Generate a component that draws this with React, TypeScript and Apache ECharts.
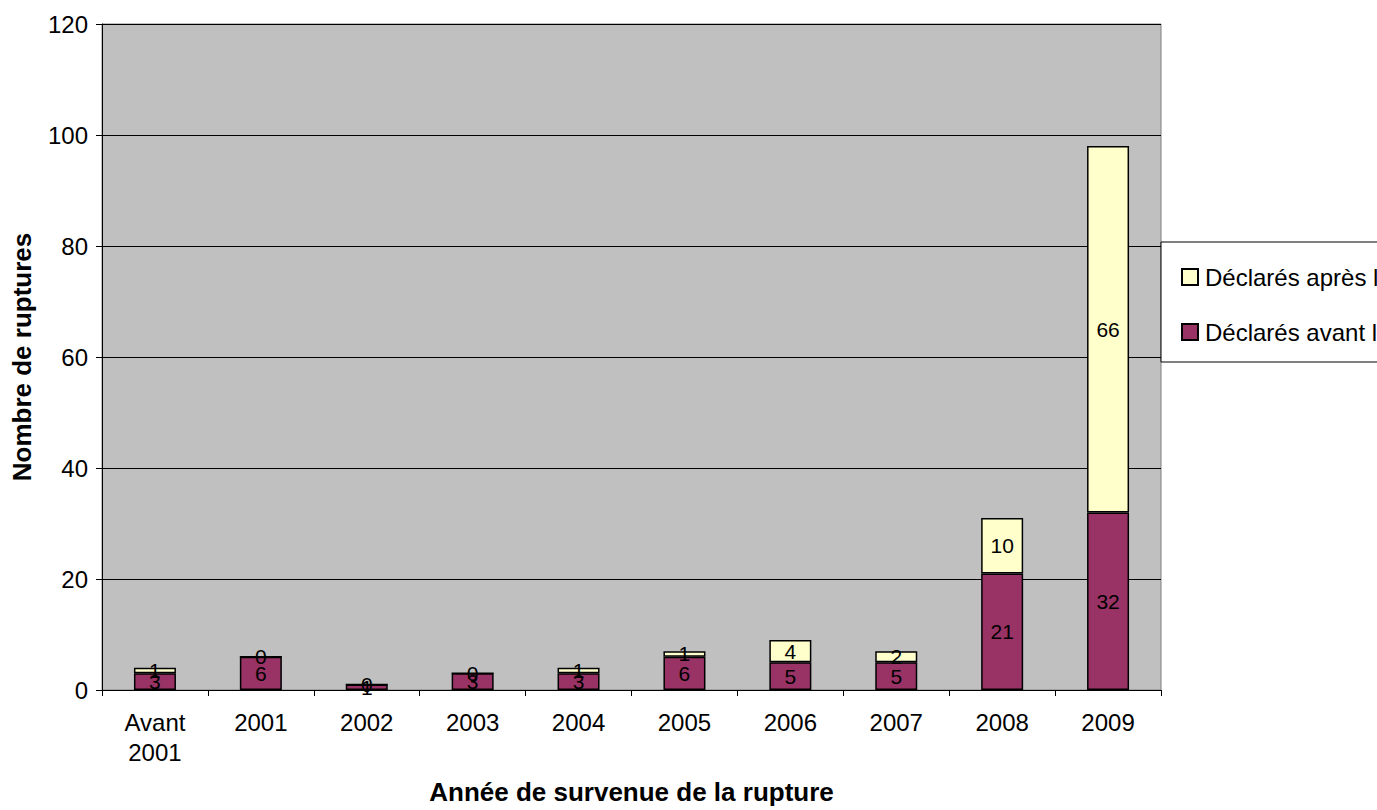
import React, { useEffect, useRef } from "react";
import * as echarts from "echarts";

const categories = ["Avant\n2001", "2001", "2002", "2003", "2004", "2005", "2006", "2007", "2008", "2009"];
const avantValues = [3, 6, 1, 3, 3, 6, 5, 5, 21, 32];
const apresValues = [1, 0, 0, 0, 1, 1, 4, 2, 10, 66];
const seriesNames = ["Déclarés avant la", "Déclarés après la"];
const yTitle = "Nombre de ruptures";
const xTitle = "Année de survenue de la rupture";

const FONT = "'Liberation Sans', Arial, sans-serif";

export default function App() {
  const ref = useRef<HTMLDivElement>(null);
  useEffect(() => {
    if (!ref.current) return;
    const chart = echarts.init(ref.current, null, { renderer: "svg" });
    const label = {
      show: true,
      position: "inside",
      color: "#000",
      fontSize: 21,
      fontFamily: FONT,
    };
    chart.setOption({
      animation: false,
      textStyle: { fontFamily: FONT },
      grid: {
        left: 102,
        top: 24,
        right: 216,
        bottom: 117,
        show: true,
        backgroundColor: "#C0C0C0",
        borderColor: "#808080",
        borderWidth: 1,
      },
      legend: {
        orient: "vertical",
        left: 1161,
        top: 242,
        padding: [23, 10, 18, 20],
        itemGap: 31,
        itemWidth: 16,
        itemHeight: 16,
        icon: "rect",
        backgroundColor: "#fff",
        borderColor: "#000",
        borderWidth: 1,
        data: [seriesNames[1], seriesNames[0]],
        textStyle: { fontSize: 24, color: "#000", fontFamily: FONT, padding: [0, 0, 0, 2] },
      },
      xAxis: {
        type: "category",
        data: categories,
        axisLine: { lineStyle: { color: "#000", width: 1 } },
        axisTick: { show: true, length: 6, lineStyle: { color: "#000" } },
        axisLabel: { color: "#000", fontSize: 24, fontFamily: FONT, margin: 17, lineHeight: 30 },
        name: xTitle,
        nameLocation: "middle",
        nameGap: 89,
        nameTextStyle: { fontSize: 26, fontWeight: "bold", color: "#000", fontFamily: FONT },
      },
      yAxis: {
        type: "value",
        min: 0,
        max: 120,
        interval: 20,
        axisLine: { show: true, lineStyle: { color: "#000", width: 1 } },
        axisTick: { show: true, length: 6, lineStyle: { color: "#000" } },
        axisLabel: { color: "#000", fontSize: 24, fontFamily: FONT, margin: 14 },
        splitLine: { show: true, lineStyle: { color: "#000", width: 1 } },
        name: yTitle,
        nameLocation: "middle",
        nameGap: 67,
        nameTextStyle: { fontSize: 26, fontWeight: "bold", color: "#000", fontFamily: FONT },
      },
      series: [
        {
          name: seriesNames[0],
          type: "bar",
          stack: "total",
          data: avantValues,
          barWidth: 42,
          itemStyle: { color: "#993366", borderColor: "#000", borderWidth: 1.5 },
          label,
        },
        {
          name: seriesNames[1],
          type: "bar",
          stack: "total",
          data: apresValues,
          barWidth: 42,
          itemStyle: { color: "#FFFFCC", borderColor: "#000", borderWidth: 1.5 },
          label,
        },
      ],
    });
    return () => chart.dispose();
  }, []);
  return (
    <div
      ref={ref}
      style={{ position: "fixed", left: 0, top: 0, width: 1377, height: 810, background: "#fff" }}
    />
  );
}
